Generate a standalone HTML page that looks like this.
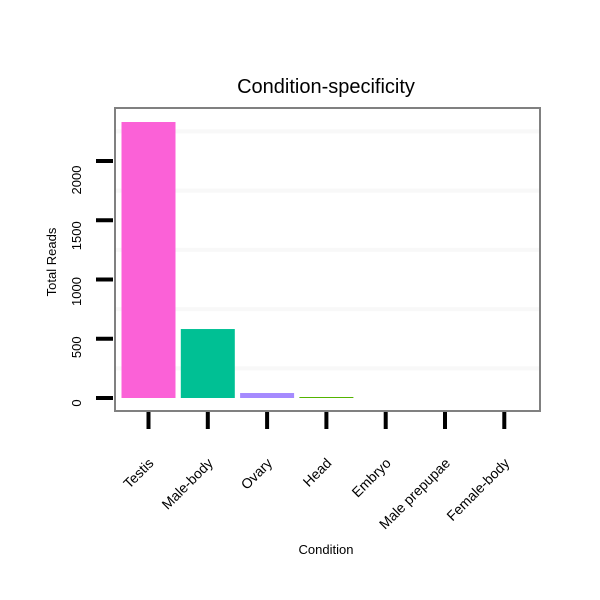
<!DOCTYPE html>
<html><head><meta charset="utf-8"><style>body{margin:0;background:#fff}svg{display:block}text{font-family:"Liberation Sans",Arial,sans-serif}</style></head>
<body>
<svg id="chart" width="600" height="600">
<text x="326" y="93" font-size="20" text-anchor="middle">Condition-specificity</text>
<g id="grid"></g><g id="bars"></g><g id="yaxis"></g><g id="xaxis"></g>
<rect x="115" y="108" width="425" height="303" fill="none" stroke="#808080" stroke-width="2"/>
<text x="0" y="0" font-size="13" text-anchor="middle" transform="translate(56,262) rotate(-90)">Total Reads</text>
<text x="326" y="554" font-size="13" text-anchor="middle">Condition</text>
</svg>
<script>
const categories=["Testis","Male-body","Ovary","Head","Embryo","Male prepupae","Female-body"];
const values=[2329,582,42,8,0,0,0];
const colors=["#fb61d7","#00c094","#a58afe","#53b400","#00b6eb","#c49a00","#f8766d"];
const yTicks=[0,500,1000,1500,2000];
const gridVals=[250,750,1250,1750,2250];
const NS="http://www.w3.org/2000/svg";
const y0=398, pxPer=237/2000;
const yS=v=>y0-v*pxPer;
const xS=i=>148.5+i*59.3;
const bw=54;
function mk(t,a,p){const e=document.createElementNS(NS,t);for(const k in a)e.setAttribute(k,a[k]);p.appendChild(e);return e;}
const G=document.getElementById('grid'),B=document.getElementById('bars'),Y=document.getElementById('yaxis'),X=document.getElementById('xaxis');
gridVals.forEach(v=>{const l=mk('line',{x1:116,x2:539,y1:yS(v),y2:yS(v),stroke:'#f8f8f8','stroke-width':4},G);

});
values.forEach((v,i)=>{const h=Math.max(v*pxPer,v>0?1:0);if(h<=0)return;
const r=mk('rect',{x:xS(i)-bw/2,y:y0-h,width:bw,height:h,fill:colors[i]},B);

});
yTicks.forEach(v=>{const l=mk('line',{x1:96,x2:113,y1:yS(v),y2:yS(v),stroke:'#000','stroke-width':4},Y);


const t=mk('text',{'font-size':13,'text-anchor':'middle',transform:`translate(81,${yS(v)+5+v*0.007}) rotate(-90)`},Y);t.textContent=v;

});
categories.forEach((c,i)=>{const x=xS(i);const l=mk('line',{x1:x,x2:x,y1:412,y2:429,stroke:'#000','stroke-width':4},X);


const t=mk('text',{'font-size':14,'text-anchor':'end',transform:`translate(${x+6},${464}) rotate(-45)`},X);t.textContent=c;

});
</script>
</body></html>
